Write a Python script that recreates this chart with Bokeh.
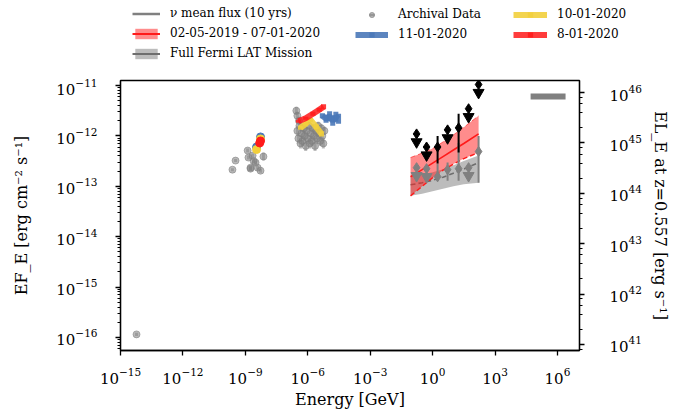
import numpy as np
from bokeh.plotting import figure
from bokeh.layouts import column, row
from bokeh.models import (ColumnDataSource, Range1d, LogScale, LogAxis, FixedTicker,
                          Legend, LegendItem)
from bokeh.embed import file_html
from bokeh.resources import INLINE

# ------------------------------------------------------------------ data
# (all values are log10; energies in GeV, fluxes in erg cm^-2 s^-1)
x_tick_labels = [1e-15, 1e-12, 1e-9, 1e-6, 1e-3, 1e0, 1e3, 1e6]
x_limits_log = [-15.0, 7.06]
y_limits_log = [-16.26, -10.9]
lum_factor_log = 57.14          # 4 pi d_L^2 at z = 0.557

# archival data (grey)
arch_logE = [-14.23,
             -9.62, -9.47, -8.89, -8.85, -8.75, -8.65, -8.51, -8.41, -8.75, -8.27, -8.13, -8.6,
             -6.55, -6.5, -6.45, -6.4, -6.35, -6.3, -6.25, -6.2, -6.15, -6.1, -6.05, -6.0,
             -5.95, -5.9, -5.85, -5.8, -5.75, -5.7, -5.65, -5.6, -5.55, -5.5, -5.45, -5.4,
             -5.35, -5.3, -5.25, -5.2, -6.5, -6.42]
arch_logF = [-15.94,
             -12.67, -12.49, -12.29, -12.43, -12.63, -12.39, -12.53, -12.63, -12.65, -12.69, -12.41, -12.5,
             -11.5, -11.9, -12.05, -11.8, -12.15, -11.95, -12.1, -11.85, -12.0, -12.2, -11.9, -12.05,
             -11.8, -12.15, -11.95, -12.1, -11.85, -12.0, -12.2, -11.9, -12.05, -11.8, -11.95, -12.1,
             -11.85, -12.0, -12.15, -11.9, -11.6, -11.7]
arch_err = [0.03,
            0.03, 0.03, 0.04, 0.04, 0.04, 0.04, 0.04, 0.04, 0.04, 0.04, 0.08, 0.04,
            0.08, 0.1, 0.1, 0.08, 0.1, 0.1, 0.1, 0.08, 0.1, 0.1, 0.08, 0.1,
            0.08, 0.1, 0.1, 0.1, 0.08, 0.1, 0.1, 0.08, 0.1, 0.08, 0.08, 0.1,
            0.08, 0.1, 0.1, 0.08, 0.08, 0.08]

# epochs: optical/UV points and X-ray spectra
blue_uv_logE = [-8.46, -8.27]
blue_uv_logF = [-12.22, -12.02]
yellow_uv_logE = [-8.46, -8.27]
yellow_uv_logF = [-12.27, -12.06]
red_uv_logE = [-8.31, -8.27]
red_uv_logF = [-12.14, -12.10]

blue_x_logE = [-5.3, -5.12, -4.95, -4.8, -4.65, -4.52]
blue_x_logF = [-11.60, -11.66, -11.61, -11.70, -11.62, -11.66]
blue_x_err = [0.05, 0.08, 0.1, 0.1, 0.1, 0.1]
yellow_x_logE = [-6.35, -6.1, -5.87, -5.6, -5.34]
yellow_x_logF = [-11.84, -11.76, -11.68, -11.82, -11.96]
yellow_x_err = [0.04, 0.04, 0.04, 0.05, 0.05]
red_x_logE = [-6.45, -6.1, -5.75, -5.45, -5.24]
red_x_logF = [-11.71, -11.65, -11.56, -11.48, -11.42]
red_x_err = [0.03, 0.03, 0.04, 0.04, 0.05]

# Fermi-LAT 02-05-2019 - 07-01-2020 (black) and full mission (grey)
lat_ul_logE = [-0.77, -0.29, 0.72, 1.73, 2.21]
lat_ul_logF = [-11.96, -12.22, -11.88, -11.46, -10.98]
lat_det_logE = [0.24, 1.25]
lat_det_logF = [-12.22, -11.84]
lat_det_lo = [-12.55, -12.33]
lat_det_hi = [-12.00, -11.56]

full_ul_logE = [-0.77, -0.29, 1.73]
full_ul_logF = [-12.63, -12.65, -12.63]
full_det_logE = [0.24, 0.72, 1.25, 2.21]
full_det_logF = [-12.81, -12.67, -12.65, -12.31]
full_det_lo = [-12.90, -12.89, -12.89, -12.93]
full_det_hi = [-12.55, -12.53, -12.14, -12.00]

band_logE = [-1.06, -0.5, 0.0, 0.5, 1.0, 1.5, 2.21]
red_band_up = [-12.43, -12.34, -12.25, -12.12, -11.98, -11.83, -11.60]
red_band_mid = [-12.81, -12.67, -12.54, -12.41, -12.28, -12.15, -11.96]
red_band_lo = [-13.19, -13.00, -12.83, -12.68, -12.56, -12.45, -12.33]
grey_band_up = [-12.80, -12.76, -12.72, -12.66, -12.58, -12.50, -12.39]
grey_band_mid = [-12.97, -12.93, -12.88, -12.82, -12.74, -12.66, -12.53]
grey_band_lo = [-13.19, -13.15, -13.10, -13.05, -13.00, -12.96, -12.93]

# neutrino mean flux (10 yrs)
nu_logE = [4.71, 6.39]
nu_logF = [-11.22, -11.22]

ul_arrow_offset = 0.16   # decades between UL diamond and its arrow head

legend_labels = ["ν mean flux (10 yrs)", "02-05-2019 - 07-01-2020", "Full Fermi LAT Mission",
                 "Archival Data", "11-01-2020", "10-01-2020", "8-01-2020"]

# ------------------------------------------------------------------ helpers
def p10(a):
    return 10.0 ** np.asarray(a, dtype=float)

FONT = "DejaVu Serif"
GREY = "#808080"
BLUE = "#4a78b8"
YELLOW = "#f2cf3c"
RED = "#ff1a1a"

p = figure(width=684, height=338, x_axis_type="log", y_axis_type="log",
           x_range=Range1d(*p10(x_limits_log)), y_range=Range1d(*p10(y_limits_log)),
           output_backend="svg", toolbar_location=None,
           min_border_left=120, min_border_right=105, min_border_top=2, min_border_bottom=66)
p.xgrid.visible = False
p.ygrid.visible = False
p.outline_line_color = "black"
p.outline_line_width = 1.3
p.background_fill_color = "white"
p.border_fill_color = "white"

p.extra_y_ranges = {"lum": Range1d(*p10(np.array(y_limits_log) + lum_factor_log))}
p.extra_y_scales = {"lum": LogScale()}
rax = LogAxis(y_range_name="lum", axis_label="EL_E at z=0.557 [erg s⁻¹]")
p.add_layout(rax, "right")

p.xaxis.ticker = FixedTicker(ticks=x_tick_labels, minor_ticks=[])
p.xaxis.axis_label = "Energy [GeV]"
p.yaxis[0].axis_label = "EF_E [erg cm⁻² s⁻¹]"

for ax in [p.xaxis[0], p.yaxis[0], rax]:
    ax.axis_line_width = 1.3
    ax.major_tick_line_width = 1.3
    ax.minor_tick_line_width = 1.0
    ax.major_tick_in = 0
    ax.major_tick_out = 5
    ax.minor_tick_in = 0
    ax.minor_tick_out = 3
    ax.major_label_text_font = FONT
    ax.major_label_text_font_size = "15px"
    ax.major_label_text_color = "black"
    ax.axis_label_text_font = FONT
    ax.axis_label_text_font_size = "16px"
    ax.axis_label_text_font_style = "normal"
    ax.axis_label_text_color = "black"
p.yaxis[0].major_label_standoff = 18
p.yaxis[0].axis_label_standoff = 22
p.xaxis[0].major_label_standoff = 12
p.xaxis[0].axis_label_standoff = 3
rax.major_label_standoff = 25
rax.axis_label_standoff = 6

# ------------------------------------------------------------------ glyphs
def segs(xl, yl, ylo, yhi):
    return ColumnDataSource(dict(x0=p10(xl), y0=p10(ylo), x1=p10(xl), y1=p10(yhi)))

# grey Fermi band (full mission)
p.varea(x=p10(band_logE), y1=p10(grey_band_lo), y2=p10(grey_band_up),
        fill_color="#a6a6a6", fill_alpha=0.75)
p.line(p10(band_logE), p10(grey_band_mid), line_color="#6e6e6e", line_width=1.6, line_dash="5 3")

# red Fermi band
p.varea(x=p10(band_logE), y1=p10(red_band_lo), y2=p10(red_band_up), fill_color=RED, fill_alpha=0.5)
p.line(p10(band_logE), p10(red_band_mid), line_color=RED, line_width=1.6)
p.line(p10(band_logE), p10(red_band_lo), line_color=RED, line_width=1.4, line_dash="5 3")
p.line(p10(band_logE), p10(red_band_up), line_color=RED, line_width=1.0, line_dash="5 3", line_alpha=0.6)

# archival data
arch_lo = np.array(arch_logF) - np.array(arch_err)
arch_hi = np.array(arch_logF) + np.array(arch_err)
p.segment(x0="x0", y0="y0", x1="x1", y1="y1", source=segs(arch_logE, arch_logF, arch_lo, arch_hi),
          line_color=GREY, line_alpha=0.5, line_width=3)
p.scatter(p10(arch_logE), p10(arch_logF), size=7, marker="circle",
          fill_color=GREY, line_color=GREY, fill_alpha=0.55, line_alpha=0.55)

# full-mission LAT points (grey)
p.segment(x0="x0", y0="y0", x1="x1", y1="y1",
          source=segs(full_det_logE, full_det_logF, full_det_lo, full_det_hi),
          line_color=GREY, line_width=2)
p.scatter(p10(full_det_logE), p10(full_det_logF), marker="diamond", size=10, color=GREY)
p.scatter(p10(full_ul_logE), p10(full_ul_logF), marker="diamond", size=10, color=GREY)
p.scatter(p10(full_ul_logE), p10(np.array(full_ul_logF) - ul_arrow_offset),
          marker="inverted_triangle", size=11, color=GREY)

# LAT points of 02-05-2019 - 07-01-2020 (black)
p.segment(x0="x0", y0="y0", x1="x1", y1="y1",
          source=segs(lat_det_logE, lat_det_logF, lat_det_lo, lat_det_hi),
          line_color="black", line_width=2)
p.scatter(p10(lat_det_logE), p10(lat_det_logF), marker="diamond", size=10, color="black")
p.scatter(p10(lat_ul_logE), p10(lat_ul_logF), marker="diamond", size=10, color="black")
p.scatter(p10(lat_ul_logE), p10(np.array(lat_ul_logF) - ul_arrow_offset),
          marker="inverted_triangle", size=11, color="black")

# epochs
def epoch(uv_e, uv_f, x_e, x_f, x_err, color, alpha):
    lo = np.array(x_f) - np.array(x_err)
    hi = np.array(x_f) + np.array(x_err)
    p.line(p10(x_e), p10(x_f), line_color=color, line_width=6, line_alpha=alpha)
    p.segment(x0="x0", y0="y0", x1="x1", y1="y1", source=segs(x_e, x_f, lo, hi),
              line_color=color, line_width=5, line_alpha=alpha)
    p.scatter(p10(uv_e), p10(uv_f), marker="circle", size=8, fill_color=color,
              line_color=color, fill_alpha=1.0)

epoch(blue_uv_logE, blue_uv_logF, blue_x_logE, blue_x_logF, blue_x_err, BLUE, 0.9)
epoch(yellow_uv_logE, yellow_uv_logF, yellow_x_logE, yellow_x_logF, yellow_x_err, YELLOW, 0.9)
epoch(red_uv_logE, red_uv_logF, red_x_logE, red_x_logF, red_x_err, RED, 0.85)

# neutrino mean flux
p.line(p10(nu_logE), p10(nu_logF), line_color=GREY, line_width=6)

# ------------------------------------------------------------------ legend (separate strip)
pl = figure(width=684, height=78, output_backend="svg", toolbar_location=None,
            x_axis_location=None, y_axis_location=None, min_border=0,
            x_range=Range1d(0, 1), y_range=Range1d(0, 1))
pl.xgrid.visible = False
pl.ygrid.visible = False
pl.outline_line_color = None

NAN = [np.nan]
h_nu = pl.line(x=NAN, y=NAN, line_color=GREY, line_width=2.5)
h_rb = pl.varea(x=NAN, y1=NAN, y2=NAN, fill_color=RED, fill_alpha=0.5)
h_rl = pl.line(x=NAN, y=NAN, line_color=RED, line_width=2)
h_gb = pl.varea(x=NAN, y1=NAN, y2=NAN, fill_color="#a6a6a6", fill_alpha=0.75)
h_gl = pl.line(x=NAN, y=NAN, line_color="#6e6e6e", line_width=2)
h_ar_e = pl.scatter(x=NAN, y=NAN, marker="dash", angle=np.pi / 2, line_color=GREY,
                    line_alpha=0.55, line_width=2)
h_ar = pl.scatter(x=NAN, y=NAN, marker="circle", fill_color=GREY, line_color=GREY,
                  fill_alpha=0.6, line_alpha=0.6)

def eb_handle(color, alpha):
    a = pl.line(x=NAN, y=NAN, line_color=color, line_width=6, line_alpha=alpha)
    b = pl.scatter(x=NAN, y=NAN, marker="dash", angle=np.pi / 2, line_color=color,
                   line_width=5, line_alpha=alpha)
    return [a, b]

def make_legend(items, x, y, glyph_w):
    lg = Legend(items=items, location=(x, y), orientation="vertical",
                border_line_color=None, background_fill_alpha=0,
                padding=0, margin=0, spacing=6, glyph_height=13, label_height=13,
                glyph_width=glyph_w, label_standoff=10,
                label_text_font=FONT, label_text_font_size="12px",
                label_text_color="black")
    pl.add_layout(lg, "center")

make_legend([LegendItem(label=legend_labels[0], renderers=[h_nu]),
             LegendItem(label=legend_labels[1], renderers=[h_rb, h_rl]),
             LegendItem(label=legend_labels[2], renderers=[h_gb, h_gl])], 132, 18, 28)
make_legend([LegendItem(label=legend_labels[3], renderers=[h_ar_e, h_ar]),
             LegendItem(label=legend_labels[4], renderers=eb_handle(BLUE, 0.9))], 355, 37, 33)
make_legend([LegendItem(label=legend_labels[5], renderers=eb_handle(YELLOW, 0.9)),
             LegendItem(label=legend_labels[6], renderers=eb_handle(RED, 0.85))], 513, 37, 34)

open("out.html", "w").write(file_html(column(row(pl), row(p), spacing=0), INLINE))
